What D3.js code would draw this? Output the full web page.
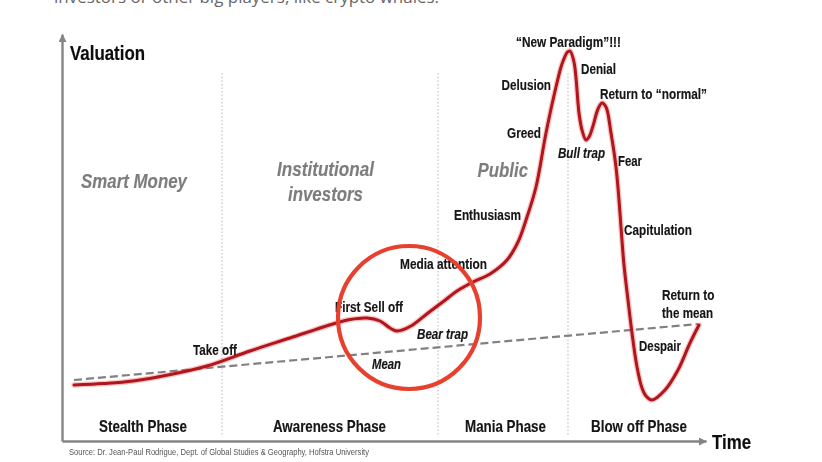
<!DOCTYPE html>
<html><head><meta charset="utf-8">
<script src="https://cdn.jsdelivr.net/npm/d3@7/dist/d3.min.js"></script>
<style>html,body{margin:0;padding:0;background:#fff}svg{display:block}text{font-family:"Liberation Sans",Arial,sans-serif}</style>
</head><body><svg id="c" width="822" height="462"></svg>
<script>
// Data
const time = [12,42,71,111,145,188,228,271,288,305,318,328,335,349,366,382,395,411,428,445,456,465,474,484,494,500,505.5,508,512,517,520,524,527,531,536,540,544,549,554,557,559,562,566,570,575,580,584,590,603,616,628,637];
const valuation = [56,57.5,60,67,75,90,103,117,121.5,123,120,113,110,115,128,140,150,159,167,181,199,224,254,308,354,377,389,390,379,328,311,301,304,315,332,338,334,308,274,241,214,176,141,108,74,53,45,41,51,71,98,116];
const meanTime = [12,636];
const meanValue = [61,117];
const dividers = [160,376,506];
const phases = ["Stealth Phase","Awareness Phase","Mania Phase","Blow off Phase"];
const actors = ["Smart Money","Institutional","investors","Public"];
const stages = ["\u201CNew Paradigm\u201D!!!","Denial","Delusion","Return to \u201Cnormal\u201D","Greed","Fear","Enthusiasm","Capitulation","Media attention","First Sell off","Take off","Return to","the mean","Despair"];
const traps = ["Bull trap","Bear trap","Mean"];

// Layout
const xS = d3.scaleLinear().domain([0,644]).range([62,706]);
const yS = d3.scaleLinear().domain([0,407]).range([441,34]);
const svg = d3.select("#c");
const defs = svg.append("defs");
defs.append("marker").attr("id","arr").attr("viewBox","0 0 8 8").attr("refX",7.5).attr("refY",4)
  .attr("markerWidth",8).attr("markerHeight",8).attr("markerUnits","userSpaceOnUse").attr("orient","auto")
  .append("path").attr("d","M0,0L8,4L0,8Z").attr("fill","#858585");
defs.append("filter").attr("id","soft").attr("x","-5%").attr("y","-5%").attr("width","110%").attr("height","110%")
  .append("feGaussianBlur").attr("stdDeviation",0.4);

// Clipped body text above the figure
svg.append("text").attr("x",54).attr("y",3).attr("font-size",15.5).attr("fill","#666")
  .style("font-family","'Open Sans'").attr("textLength",385).attr("lengthAdjust","spacingAndGlyphs")
  .text("investors or other big players, like crypto whales.");

const g = svg.append("g").attr("filter","url(#soft)");

// Dividers
g.append("g").selectAll("line").data(dividers).join("line")
  .attr("x1",d=>xS(d)).attr("x2",d=>xS(d)).attr("y1",73).attr("y2",436)
  .attr("stroke","#cdcdcd").attr("stroke-width",1.4).attr("stroke-dasharray","1.6 2");

// Axes
const ax = g.append("g").attr("transform","translate(0,441)").call(d3.axisBottom(xS).tickValues([]).tickSize(0));
ax.select(".domain").attr("stroke","#858585").attr("stroke-width",2.4).attr("marker-end","url(#arr)");
const ay = g.append("g").attr("transform","translate(62,0)").call(d3.axisLeft(yS).tickValues([]).tickSize(0));
ay.select(".domain").attr("stroke","#858585").attr("stroke-width",2.4).attr("marker-end","url(#arr)");

// Mean line
const meanPts = meanTime.map((t,i)=>[t,meanValue[i]]);
g.append("path").attr("d",d3.line().x(d=>xS(d[0])).y(d=>yS(d[1]))(meanPts))
  .attr("fill","none").attr("stroke","#808080").attr("stroke-width",2.2).attr("stroke-dasharray","8 4");

// Curve
const pts = time.map((t,i)=>[t,valuation[i]]);
const line = d3.line().x(d=>xS(d[0])).y(d=>yS(d[1])).curve(d3.curveCatmullRom.alpha(0.5));
g.append("path").attr("d",line(pts)).attr("fill","none").attr("stroke","#ee5a55").attr("stroke-opacity",0.35).attr("stroke-width",5.5).attr("stroke-linecap","round");
g.append("path").attr("d",line(pts)).attr("fill","none").attr("stroke","#b0141c").attr("stroke-width",3).attr("stroke-linecap","round");

// Labels
function put(txt,x0,x1,base,size,opts={}){
  const f=opts.fill||"#141414";
  g.append("text").attr("x",x0).attr("y",base).attr("font-size",size)
   .attr("font-weight",opts.weight||"bold").attr("font-style",opts.italic?"italic":"normal")
   .attr("fill",f).attr("stroke",opts.weight?"none":f).attr("stroke-width",0.15)
   .attr("textLength",x1-x0).attr("lengthAdjust","spacingAndGlyphs").text(txt);
}
put("Valuation",70,145,59.5,20.5,{fill:"#0a0a0a"});
put("Time",712,751,448.5,21,{fill:"#0a0a0a"});
const gray={italic:true,fill:"#7d7d7d"};
put(actors[0],81,187,187.5,21,gray);
put(actors[1],277,374,175.5,21,gray);
put(actors[2],288,363,200.5,21,gray);
put(actors[3],477.5,528,176.5,21,gray);
const sp=[[516,621,46.5],[581,616,73.5],[501.5,551,89.5],[600,707,98.5],[507,541,137.5],[618,642,165.5],[454,521,219.5],[624,692,234.5],[400,487,268.5],[335,403,311.5],[193,237,354.5],[662,714.5,299.5],[662,713,317.5],[639,681,350.5]];
stages.forEach((s,i)=>put(s,sp[i][0],sp[i][1],sp[i][2],14.5));
const tp=[[558,605,157.5],[417,468,338.5],[372,401,368.5]];
traps.forEach((s,i)=>put(s,tp[i][0],tp[i][1],tp[i][2],14,{italic:true}));
const ph=[[99,187],[273,386],[465,546],[591,687]];
phases.forEach((s,i)=>put(s,ph[i][0],ph[i][1],432,16.5));
put("Source: Dr. Jean-Paul Rodrigue, Dept. of Global Studies & Geography, Hofstra University",69,369,455,9.5,{weight:"normal",fill:"#555"});

// Highlight circle
g.append("ellipse").attr("cx",409).attr("cy",317.5).attr("rx",71).attr("ry",71.5)
  .attr("fill","none").attr("stroke","#e8402f").attr("stroke-width",4.2);
</script></body></html>
